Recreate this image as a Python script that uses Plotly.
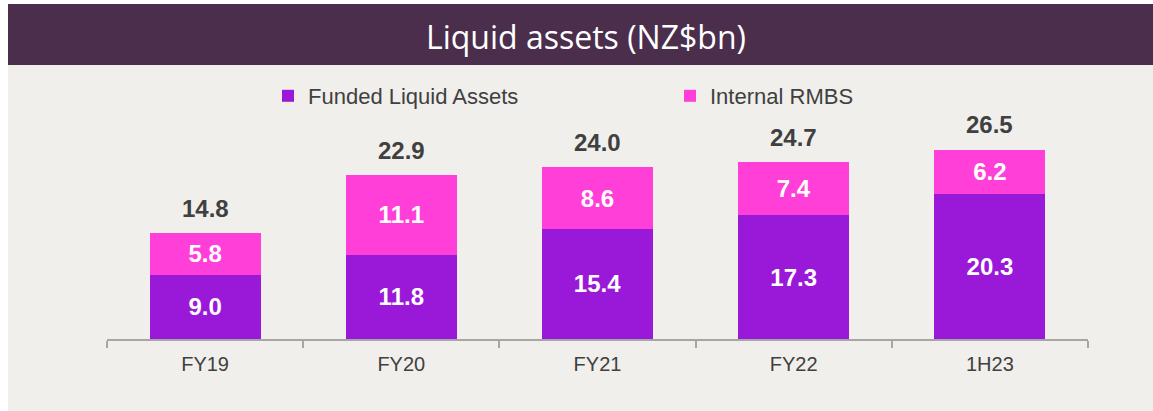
import plotly.graph_objects as go

categories = ["FY19", "FY20", "FY21", "FY22", "1H23"]
funded_liquid_assets = [9.0, 11.8, 15.4, 17.3, 20.3]
internal_rmbs = [5.8, 11.1, 8.6, 7.4, 6.2]
totals = [14.8, 22.9, 24.0, 24.7, 26.5]

PURPLE = "#9A19D9"
PINK = "#FF3FD8"
GREY_TXT = "#404040"
BG = "#F0EFEC"
BAND = "#4A2E4C"

L, R, T, B = 107, 65, 120, 72
W, H = 1153, 411
pw, ph = W - L - R, H - T - B

def px(x):
    return (x - L) / pw

def py(y):
    return (H - B - y) / ph

fig = go.Figure()
fig.add_trace(go.Bar(
    name="Funded Liquid Assets", x=categories, y=funded_liquid_assets,
    marker=dict(color=PURPLE, line=dict(width=0)),
    texttemplate="%{y:.1f}", textposition="inside", insidetextanchor="middle",
    textfont=dict(family="Liberation Sans, Arial", size=24, color="white", weight="bold"),
    constraintext="none",
))
fig.add_trace(go.Bar(
    name="Internal RMBS", x=categories, y=internal_rmbs,
    marker=dict(color=PINK, line=dict(width=0)),
    texttemplate="%{y:.1f}", textposition="inside", insidetextanchor="middle",
    textfont=dict(family="Liberation Sans, Arial", size=24, color="white", weight="bold"),
    constraintext="none",
))

for c, t in zip(categories, totals):
    fig.add_annotation(x=c, y=t, xref="x", yref="y", text=f"<b>{t:.1f}</b>",
                       showarrow=False, yanchor="middle", yshift=25,
                       font=dict(family="Liberation Sans, Arial", size=24, color=GREY_TXT))

# background panel and title band
fig.add_shape(type="rect", xref="paper", yref="paper", x0=px(8), x1=px(1170), y0=py(430), y1=py(4),
              fillcolor=BG, line=dict(width=0), layer="below")
fig.add_shape(type="rect", xref="paper", yref="paper", x0=px(8), x1=px(1170), y0=py(65), y1=py(4),
              fillcolor=BAND, line=dict(width=0), layer="below")
fig.add_annotation(xref="paper", yref="paper", x=px(586), y=py(36), text="Liquid assets (NZ$bn)",
                   showarrow=False, xanchor="center", yanchor="middle",
                   font=dict(family="Open Sans", size=32, color="white"))

fig.update_layout(
    width=W, height=H, barmode="stack", bargap=0.434,
    margin=dict(l=L, r=R, t=T, b=B, autoexpand=False),
    paper_bgcolor="white", plot_bgcolor="rgba(0,0,0,0)",
    font=dict(family="Liberation Sans, Arial", color=GREY_TXT),
    showlegend=True,
    legend=dict(orientation="h", x=px(268), xanchor="left", y=py(96), yanchor="middle",
                bgcolor="rgba(0,0,0,0)", font=dict(size=22, color=GREY_TXT),
                entrywidth=357, entrywidthmode="pixels", traceorder="normal"),
    xaxis=dict(showline=True, linecolor="#A6A6A6", linewidth=1.5, ticks="outside",
               tickson="boundaries", ticklen=7, tickcolor="#A6A6A6", tickwidth=1.5,
               ticklabelstandoff=6,
               tickfont=dict(size=20, color=GREY_TXT), showgrid=False),
    yaxis=dict(range=[0, ph / 7.15], visible=False, showgrid=False),
)

fig.write_html(
    "out.html",
    config={"displayModeBar": False},
    post_script=(
        "document.body.style.margin='0';"
        "document.body.style.overflow='hidden';"
        "document.documentElement.style.overflow='hidden';"
        f"document.body.style.background='{BG}';"
    ),
)
